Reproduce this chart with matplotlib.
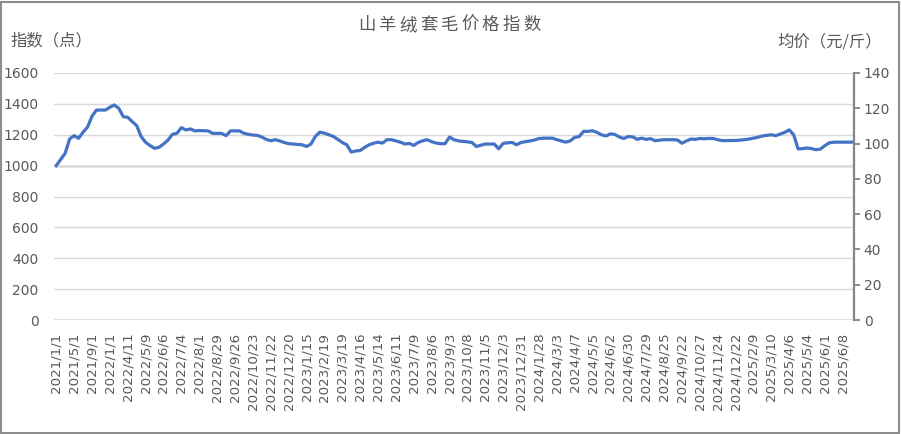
import matplotlib
matplotlib.use("Agg")
import matplotlib.pyplot as plt
from matplotlib.patches import Rectangle

plt.rcParams['font.family'] = ['DejaVu Sans', 'Noto Sans CJK SC']

title = "山羊绒套毛价格指数"
left_label = "指数（点）"
right_label = "均价（元/斤）"

tick_labels = [
    "2021/1/1", "2021/5/1", "2021/9/1", "2022/1/1", "2022/4/11", "2022/5/9",
    "2022/6/6", "2022/7/4", "2022/8/1", "2022/8/29", "2022/9/26", "2022/10/23",
    "2022/11/22", "2022/12/20", "2023/1/15", "2023/2/19", "2023/3/19",
    "2023/4/16", "2023/5/14", "2023/6/11", "2023/7/9", "2023/8/6", "2023/9/3",
    "2023/10/8", "2023/11/5", "2023/12/3", "2023/12/31", "2024/1/28",
    "2024/3/3", "2024/4/7", "2024/5/5", "2024/6/2", "2024/6/30", "2024/7/29",
    "2024/8/25", "2024/9/22", "2024/10/27", "2024/11/24", "2024/12/22",
    "2025/2/9", "2025/3/10", "2025/4/6", "2025/5/4", "2025/6/1", "2025/6/8",
]
label_step = 4

index_values = [
    1000, 1040, 1080, 1173, 1194, 1177, 1216, 1250, 1320, 1360,
    1360, 1360, 1378, 1393, 1371, 1317, 1313, 1285, 1259, 1188,
    1151, 1130, 1112, 1119, 1140, 1165, 1203, 1209, 1246, 1231,
    1238, 1225, 1227, 1226, 1225, 1209, 1209, 1209, 1194, 1225,
    1225, 1225, 1209, 1203, 1198, 1196, 1185, 1170, 1161, 1168,
    1160, 1150, 1142, 1140, 1137, 1135, 1124, 1140, 1190, 1217,
    1210, 1200, 1189, 1170, 1150, 1135, 1088, 1095, 1098, 1118,
    1135, 1145, 1152, 1146, 1168, 1168, 1160, 1152, 1140, 1144,
    1131, 1150, 1161, 1168, 1155, 1146, 1142, 1142, 1185, 1168,
    1160, 1157, 1154, 1150, 1124, 1132, 1140, 1140, 1140, 1109,
    1144, 1148, 1150, 1135, 1150, 1155, 1160, 1166, 1175, 1178,
    1178, 1178, 1168, 1160, 1152, 1160, 1183, 1188, 1222, 1222,
    1226, 1215, 1200, 1192, 1206, 1202, 1185, 1176, 1188, 1186,
    1170, 1178, 1170, 1175, 1161, 1165, 1168, 1168, 1168, 1166,
    1145, 1160, 1172, 1170, 1176, 1174, 1176, 1176, 1168, 1162,
    1162, 1163, 1163, 1165, 1168, 1172, 1178, 1184, 1192, 1196,
    1200, 1194, 1205, 1215, 1232, 1200, 1108, 1110, 1114, 1110,
    1103, 1107, 1130, 1148, 1152, 1152, 1152, 1152, 1152,
]

left_ticks = [0, 200, 400, 600, 800, 1000, 1200, 1400, 1600]
right_ticks = [0, 20, 40, 60, 80, 100, 120, 140]

W, H = 901, 434
fig = plt.figure(figsize=(W / 100, H / 100), dpi=100)
fig.patches.append(Rectangle((1 / W, 1 / H), (W - 3) / W, (H - 3) / H,
                             transform=fig.transFigure, fill=False,
                             edgecolor='#8c8c8c', linewidth=1.5))

x0, x1, ytop, ybot = 54, 854, 73, 320
ax = fig.add_axes([x0 / W, 1 - ybot / H, (x1 - x0) / W, (ybot - ytop) / H])
n = len(index_values)
xs = list(range(n))

text_color = '#595959'
for v in left_ticks:
    lw = 1.8 if v in (0, 1000) else 1.0
    ax.axhline(v, color='#d9d9d9', linewidth=lw, zorder=0)

ax.plot(xs, index_values, color='#4472C4', linewidth=2.3,
        solid_joinstyle='round', zorder=3)

ax.set_xlim(-0.5, n - 0.5)
ax.set_ylim(0, 1600)
ax.set_yticks(left_ticks)
ax.set_yticklabels([str(v) for v in left_ticks], color=text_color, fontsize=10)
ax.tick_params(axis='y', length=0, pad=11)
ax.set_xticks(list(range(0, len(tick_labels) * label_step, label_step)))
ax.set_xticklabels(tick_labels, rotation=90, color=text_color, fontsize=9.6,
                   va='top', ha='center')
ax.tick_params(axis='x', length=0, pad=9)
for s in ax.spines.values():
    s.set_visible(False)

ax2 = ax.twinx()
ax2.set_ylim(0, 140)
ax2.set_yticks(right_ticks)
ax2.set_yticklabels([str(v) for v in right_ticks], color=text_color, fontsize=10)
ax2.tick_params(axis='y', length=4, width=1.3, color='#868686', pad=3,
                direction='out')
for k, s in ax2.spines.items():
    s.set_visible(k == 'right')
ax2.spines['right'].set_color('#868686')
ax2.spines['right'].set_linewidth(1.6)

title_x = [367 + i * 20.6 for i in range(len(title))]
for ch, tx in zip(title, title_x):
    fig.text(tx / W, 1 - 25 / H, ch, ha='center', va='center',
             fontsize=12.5, color=text_color, family=['Noto Sans CJK SC'])

fig.text(10 / W, 1 - 41 / H, left_label, ha='left', va='center',
         fontsize=11.8, color=text_color, family=['Noto Sans CJK SC'])
fig.text(882 / W, 1 - 42 / H, right_label, ha='right', va='center',
         fontsize=11.8, color=text_color, family=['Noto Sans CJK SC'])

fig.savefig('out.png', dpi=100)
